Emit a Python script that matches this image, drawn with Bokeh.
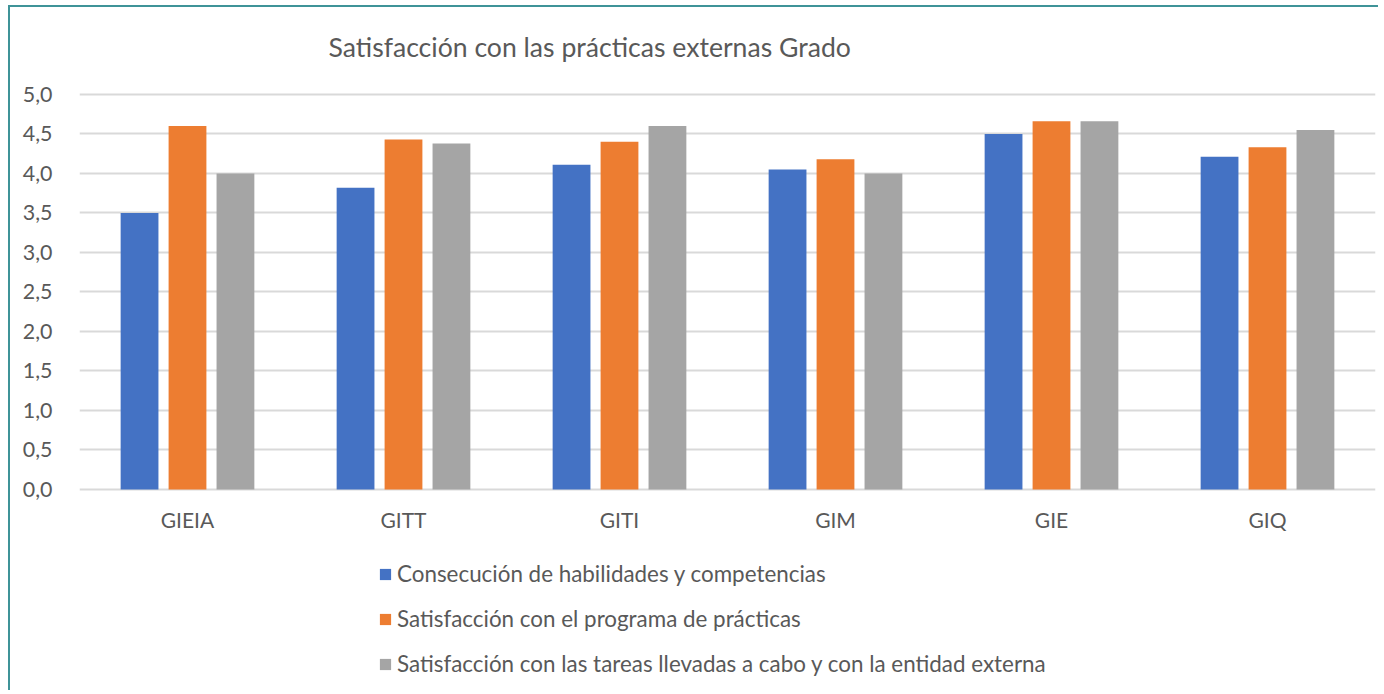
from bokeh.plotting import figure
from bokeh.models import (ColumnDataSource, FactorRange, Range1d, FixedTicker,
                          CustomJSTickFormatter, Legend, LegendItem, Label)
from bokeh.transform import dodge
from bokeh.embed import file_html
from bokeh.resources import INLINE

categories = ["GIEIA", "GITT", "GITI", "GIM", "GIE", "GIQ"]
series_names = [
    "Consecución de habilidades y competencias",
    "Satisfacción con el programa de prácticas",
    "Satisfacción con las tareas llevadas a cabo y con la entidad externa",
]
habilidades = [3.50, 3.82, 4.11, 4.05, 4.50, 4.21]
programa = [4.60, 4.43, 4.40, 4.18, 4.66, 4.33]
tareas = [4.00, 4.38, 4.60, 4.00, 4.66, 4.55]
y_ticks = [0.0, 0.5, 1.0, 1.5, 2.0, 2.5, 3.0, 3.5, 4.0, 4.5, 5.0]
title_text = "Satisfacción con las prácticas externas Grado"

colors = ["#4472C4", "#ED7D31", "#A5A5A5"]
FONT = "Lato"
TXT = "#595959"

source = ColumnDataSource(data=dict(cat=categories, s0=habilidades, s1=programa, s2=tareas))

# frame spans the whole chart area; value axis 0..5 sits in the middle,
# title above it and legend below it are placed inside the frame
p = figure(x_range=FactorRange(*categories), y_range=Range1d(-2.57, 6.10),
           width=1370, height=685, output_backend="svg", toolbar_location=None,
           min_border_left=69, min_border_right=5, min_border_top=0, min_border_bottom=0)
p.styles = {"border-left": "2px solid #3F9398", "border-top": "2px solid #3F9398",
            "margin-left": "8px", "margin-top": "5px"}
p.outline_line_color = None
p.background_fill_color = "white"
p.border_fill_color = "white"

renderers = []
for i, (col, c) in enumerate(zip(["s0", "s1", "s2"], colors)):
    r = p.vbar(x=dodge("cat", (i - 1) * 0.222, range=p.x_range), top=col, width=0.175,
               source=source, fill_color=c, line_color=None)
    renderers.append(r)

p.yaxis.ticker = FixedTicker(ticks=y_ticks)
p.yaxis.formatter = CustomJSTickFormatter(code="return tick.toFixed(1).replace('.', ',');")
for ax in [p.xaxis[0], p.yaxis[0]]:
    ax.axis_line_color = None
    ax.major_tick_line_color = None
    ax.minor_tick_line_color = None
    ax.major_label_text_font = FONT
    ax.major_label_text_color = TXT
p.yaxis.major_label_text_font_size = "21.4px"
p.yaxis.major_label_standoff = 21
p.xaxis.fixed_location = 0
p.xaxis.major_label_text_font_size = "21px"
p.xaxis.major_label_standoff = 12
p.xgrid.grid_line_color = None
p.ygrid.grid_line_color = "#D9D9D9"
p.ygrid.grid_line_width = 2
p.ygrid.ticker = FixedTicker(ticks=y_ticks)

title = Label(text=title_text, x=249, y=646, x_units="screen", y_units="screen",
              text_font=FONT, text_font_size="26.6px", text_color=TXT,
              text_baseline="middle", text_align="left")
p.add_layout(title)

legend = Legend(items=[LegendItem(label=n, renderers=[r]) for n, r in zip(series_names, renderers)],
                location=(299, 15), orientation="vertical",
                glyph_width=14, glyph_height=14, label_standoff=5, label_height=20,
                spacing=18, padding=0, margin=0, border_line_color=None,
                background_fill_alpha=0, label_text_font=FONT, label_text_font_size="22.4px",
                label_text_color=TXT)
p.add_layout(legend, "center")

open("out.html", "w").write(file_html(p, INLINE))
